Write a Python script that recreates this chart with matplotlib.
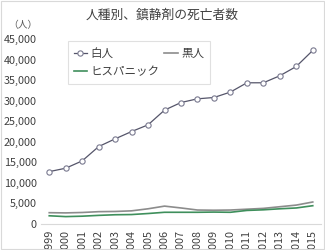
import matplotlib
matplotlib.use("Agg")
import matplotlib.pyplot as plt
from matplotlib.patches import Rectangle

plt.rcParams['font.family'] = ['Noto Sans CJK JP', 'DejaVu Sans']

years = [str(y) for y in range(1999, 2016)]
white = [12740, 13570, 15350, 18830, 20710, 22490, 24120, 27700, 29550, 30450,
         30770, 32090, 34350, 34350, 36060, 38320, 42220]
black = [2750, 2700, 2800, 3000, 3050, 3200, 3700, 4350, 3900, 3400,
         3350, 3400, 3600, 3800, 4200, 4600, 5350]
hispanic = [2000, 1800, 1900, 2100, 2250, 2300, 2550, 2850, 2850, 2850,
            2900, 2850, 3300, 3450, 3700, 3900, 4450]
labels = ['白人', '黒人', 'ヒスパニック']
title = '人種別、鎮静剤の死亡者数'
yticks = [0, 5000, 10000, 15000, 20000, 25000, 30000, 35000, 40000, 45000]

fig = plt.figure(figsize=(3.25, 2.5), dpi=100)
W, H = 325, 250
ax = fig.add_axes([41 / W, 1 - 224 / H, 280 / W, (224 - 39) / H])
x = list(range(len(years)))
l_black, = ax.plot(x, black, color='#8c8c8c', lw=1.2, label=labels[1], zorder=2)
l_hisp, = ax.plot(x, hispanic, color='#3f8f5c', lw=1.2, label=labels[2], zorder=2)
l_white, = ax.plot(x, white, color='#55556a', lw=0.9, marker='o', ms=3.8,
                   mfc='white', mec='#7a7a90', mew=0.8, label=labels[0], zorder=3)

ax.set_xlim(-0.5, len(years) - 0.5)
ax.set_ylim(0, 45000)
ax.set_yticks(yticks)
ax.set_yticklabels([f'{v:,}' for v in yticks], fontsize=7.8, color='#404040')
ax.set_xticks(x)
ax.set_xticklabels(years, rotation=90, fontsize=7.8, color='#404040', va='top')
ax.tick_params(axis='both', length=0, pad=3)
ax.tick_params(axis='x', pad=4)
for s in ['top', 'right', 'left']:
    ax.spines[s].set_visible(False)
ax.spines['bottom'].set_color('#d9d9d9')
ax.spines['bottom'].set_linewidth(0.8)

leg = ax.legend([l_white, l_hisp, l_black],
                [labels[0], labels[2], labels[1]], ncol=2,
                loc='upper left', bbox_to_anchor=((62 - 41) / 280, 1.02),
                fontsize=8.3, frameon=True, fancybox=False, edgecolor='#d9d9d9',
                handlelength=1.2, handletextpad=0.3, columnspacing=0.4,
                borderpad=0.5, labelspacing=0.45)
leg.get_frame().set_linewidth(0.8)
for t in leg.get_texts():
    t.set_color('#404040')

fig.text(162 / W, 1 - 15 / H, title, ha='center', va='center', fontsize=9.2,
         color='#404040')
fig.text(8 / W, 1 - 25 / H, '（人）', ha='left', va='center', fontsize=7,
         color='#595959')

fig.patches.append(Rectangle((0.003, 0.003), 0.994, 0.994, transform=fig.transFigure,
                             fill=False, edgecolor='#d9d9d9', lw=0.8))
fig.savefig('out.png', dpi=100)
